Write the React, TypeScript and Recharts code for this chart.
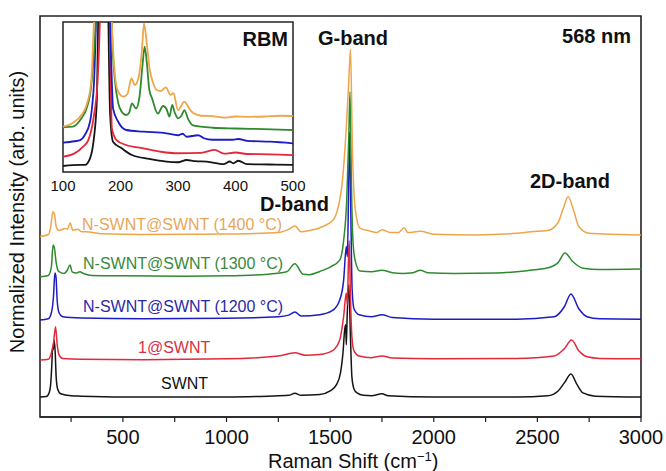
import { LineChart, Line, XAxis, YAxis, ReferenceArea } from "recharts"

// Raman shift (cm-1), normalized intensity (offset stacked, 0-100 of plot height)
const swnt: [number, number][] = [
  [100, 5.0], [130, 5.1], [145, 6.2], [152, 8.5], [157, 13], [161, 17.5], [164, 16.8], [168, 19.2],
  [173, 16.5], [178, 10], [185, 7], [200, 5.8], [250, 5.3], [300, 5.2], [500, 5.0], [800, 5.0],
  [1000, 5.0], [1200, 5.2], [1300, 5.4], [1330, 5.9], [1360, 5.4], [1450, 5.6], [1500, 6.5],
  [1530, 8], [1550, 11], [1562, 16], [1570, 21.7], [1575, 23], [1578, 18], [1582, 25], [1590, 33],
  [1598, 20], [1605, 10], [1615, 7], [1630, 6], [1660, 5.4], [1700, 5.3], [1750, 5.8], [1780, 5.3],
  [2000, 5.0], [2400, 5.0], [2550, 5.3], [2600, 6.5], [2630, 8.5], [2662, 10.7], [2690, 8.2],
  [2720, 6.0], [2780, 5.2], [3000, 5.0],
]
const oneSwnt: [number, number][] = [
  [100, 14.2], [140, 14.4], [155, 16], [165, 18.5], [175, 22.5], [183, 18], [192, 15.5], [210, 14.6],
  [300, 14.4], [600, 14.3], [1000, 14.5], [1250, 15.2], [1330, 16], [1380, 15.4], [1450, 15.6],
  [1510, 16.5], [1545, 19], [1565, 25], [1578, 30.9], [1583, 28], [1588, 38], [1592, 44], [1598, 30],
  [1605, 20], [1615, 16.5], [1640, 15.2], [1700, 14.8], [1750, 15.2], [1800, 14.7], [2000, 14.5],
  [2400, 14.6], [2580, 15.2], [2630, 17], [2665, 19.2], [2700, 16.5], [2740, 15], [2800, 14.6],
  [3000, 14.5],
]
const n1200: [number, number][] = [
  [100, 24.2], [140, 24.5], [155, 26], [165, 30], [172, 35.9], [177, 35], [183, 29], [192, 26],
  [210, 25], [300, 24.7], [600, 24.5], [1000, 24.6], [1250, 25], [1300, 25.4], [1330, 26.2],
  [1360, 25.2], [1450, 25.5], [1510, 26.5], [1545, 29], [1565, 34], [1578, 42.5], [1583, 40],
  [1590, 60], [1594, 71.1], [1600, 50], [1606, 32], [1615, 27], [1640, 25.5], [1700, 25],
  [1750, 25.5], [1800, 24.8], [2000, 24.4], [2400, 24.4], [2580, 25], [2630, 27.5], [2662, 30.7],
  [2700, 27], [2740, 25], [2800, 24.5], [3000, 24.4],
]
const n1300: [number, number][] = [
  [100, 35], [140, 35.3], [155, 37.5], [163, 42.9], [170, 42], [178, 38.5], [190, 36.3], [215, 35.8],
  [232, 36.6], [245, 37.9], [255, 36.2], [275, 35.9], [292, 36.2], [310, 35.8], [350, 35.3],
  [500, 35.2], [800, 35.1], [1000, 35.2], [1200, 35.6], [1290, 36.2], [1330, 38.2], [1370, 35.6],
  [1400, 35.5], [1450, 36.3], [1500, 37.4], [1547, 39.2], [1565, 44], [1580, 54], [1590, 70],
  [1596, 81.1], [1602, 60], [1610, 44], [1620, 39.2], [1644, 36.4], [1700, 36.2], [1750, 36.6],
  [1800, 36], [1850, 35.8], [1900, 36], [1935, 36.6], [1970, 36], [2100, 35.8], [2300, 35.9],
  [2450, 36.5], [2550, 37.2], [2600, 38.5], [2633, 40.9], [2670, 38.8], [2720, 37.1], [2800, 36.8],
  [3000, 36.9],
]
const n1400: [number, number][] = [
  [100, 45.0], [140, 45.5], [152, 47.5], [162, 51.2], [170, 50.5], [178, 47.5], [192, 46.5],
  [220, 47], [232, 46.8], [246, 48.4], [258, 46.6], [283, 46.8], [300, 46.2], [320, 46.2],
  [400, 45.7], [600, 45.5], [900, 45.6], [1100, 45.7], [1250, 46.0], [1300, 46.8], [1330, 47.6],
  [1360, 46.2], [1400, 46.5], [1450, 47.2], [1514, 49.1], [1556, 57.4], [1580, 74], [1592, 86],
  [1598, 91.7], [1608, 65.8], [1620, 52.4], [1644, 47.1], [1690, 46.4], [1724, 46], [1750, 46.7],
  [1790, 46], [1830, 46], [1857, 47.2], [1875, 46], [1935, 46.3], [2000, 45.6], [2200, 45.4],
  [2400, 45.8], [2470, 46.2], [2550, 46.5], [2600, 48.5], [2625, 52], [2648, 54.9], [2675, 51.5],
  [2700, 47.5], [2750, 45.8], [2850, 45.6], [3000, 45.4],
]

// RBM inset (100-500 cm-1)
const swntRbm: [number, number][] = [
  [100, 4], [130, 4.7], [138, 4.7], [147, 9.1], [153, 20.2], [159, 49], [163, 150], [170, 300],
  [176, 200], [179, 100], [182, 38], [187, 20.2], [202, 15.8], [220, 11.3], [250, 8.7], [280, 6.9],
  [300, 6.5], [315, 8], [330, 7.2], [350, 6.9], [380, 5.3], [390, 7], [396, 5.8], [405, 7.5],
  [420, 5.2], [460, 5], [500, 4.7],
]
const oneSwntRbm: [number, number][] = [
  [100, 10.2], [120, 12.4], [135, 16.9], [144, 21.3], [153, 35.8], [160, 60], [164, 100], [170, 250],
  [176, 280], [180, 150], [183, 60], [185, 29], [193, 21.3], [210, 18], [240, 15.8], [270, 13.5],
  [300, 12.5], [340, 12.8], [364, 14.7], [380, 12.2], [400, 13], [420, 12], [460, 11.8], [500, 11.3],
]
const n1200Rbm: [number, number][] = [
  [100, 19.6], [120, 20.5], [130, 21.3], [138, 24.7], [147, 33.5], [151, 45], [154, 60], [158, 110],
  [165, 250], [172, 280], [178, 200], [182, 100], [185, 60], [187, 42.4], [196, 33.5], [210, 28],
  [240, 26.9], [280, 25.8], [300, 24.5], [308, 25.5], [315, 23.5], [335, 24.5], [345, 22.5],
  [360, 21.5], [395, 21.5], [405, 22], [420, 20.8], [460, 20.2], [500, 19.1],
]
const n1300Rbm: [number, number][] = [
  [100, 29.8], [117, 30.2], [132, 35.8], [141, 42.4], [149, 57], [154, 80], [158, 110], [165, 250],
  [170, 300], [176, 250], [182, 140], [186, 85], [190, 62], [196, 46], [202, 40.2], [210, 38],
  [215, 39.5], [220, 45.8], [227, 42.4], [233, 50], [238, 70], [242, 83.5], [246, 72], [250, 55],
  [255, 49], [265, 39], [274, 44], [280, 42], [285, 36.9], [290, 44.7], [294, 40], [300, 35.8],
  [306, 37.5], [311, 41.3], [318, 35], [325, 31.3], [340, 30.2], [360, 29.5], [400, 29],
  [450, 28.6], [500, 28],
]
const n1400Rbm: [number, number][] = [
  [100, 30.2], [117, 32.7], [132, 38], [141, 44.7], [149, 60], [155, 110], [160, 140], [165, 250],
  [170, 300], [176, 250], [182, 130], [186, 90], [190, 66], [196, 53.5], [205, 50.2], [212, 52],
  [219, 62.4], [225, 58], [232, 64], [237, 80], [241, 99], [245, 88], [251, 68], [258, 58],
  [263, 54.7], [270, 54], [279, 56.4], [287, 51.3], [292, 52.5], [300, 41.3], [311, 46.9],
  [320, 42], [327, 39.1], [340, 37.5], [360, 37.3], [380, 36.3], [400, 37], [420, 36.8], [450, 37],
  [480, 37.5], [500, 37.3],
]

const mainTicks = [250, 500, 750, 1000, 1250, 1500, 1750, 2000, 2250, 2500, 2750, 3000]
const insetTicks = [100, 200, 300, 400, 500]
const insetYTicks = [21, 42, 63, 84]

const COLORS = {
  swnt: "#151515",
  one: "#e2283a",
  n1200: "#1c1cc4",
  n1300: "#2f8a2f",
  n1400: "#f0a548",
}

const FONT = "'Liberation Sans', Arial, sans-serif"

const pts = (s: [number, number][]) => s.map(([x, y]) => ({ x, y }))

const mainSeries = [
  { key: "swnt", data: swnt, color: COLORS.swnt },
  { key: "one", data: oneSwnt, color: COLORS.one },
  { key: "n1200", data: n1200, color: COLORS.n1200 },
  { key: "n1300", data: n1300, color: COLORS.n1300 },
  { key: "n1400", data: n1400, color: COLORS.n1400 },
]
const insetSeries = [
  { key: "swnt", data: swntRbm, color: COLORS.swnt },
  { key: "one", data: oneSwntRbm, color: COLORS.one },
  { key: "n1200", data: n1200Rbm, color: COLORS.n1200 },
  { key: "n1300", data: n1300Rbm, color: COLORS.n1300 },
  { key: "n1400", data: n1400Rbm, color: COLORS.n1400 },
]

export default function App() {
  return (
    <div
      style={{
        position: "absolute",
        left: 0,
        top: 0,
        width: 666,
        height: 471,
        background: "#fff",
        fontFamily: FONT,
      }}
    >
      <div style={{ position: "absolute", left: 0, top: 0 }}>
        <LineChart width={666} height={471} margin={{ top: 16, right: 25, bottom: 24, left: 40 }}>
          <XAxis
            dataKey="x"
            type="number"
            domain={[100, 3000]}
            ticks={mainTicks}
            interval={0}
            tickFormatter={(v: number) => (v % 500 === 0 ? String(v) : "")}
            tick={{ fill: "#111", fontSize: 20, fontFamily: FONT }}
            tickSize={5}
            tickMargin={8}
            height={30}
            axisLine={{ stroke: "#222", strokeWidth: 1.5 }}
            tickLine={{ stroke: "#222", strokeWidth: 1.2 }}
            allowDataOverflow
          />
          <YAxis type="number" domain={[0, 100]} hide allowDataOverflow />
          <ReferenceArea x1={100} x2={3000} y1={0} y2={100} fill="none" stroke="#222" strokeWidth={1.6} />
          {mainSeries.map((s) => (
            <Line
              key={s.key}
              data={pts(s.data)}
              dataKey="y"
              type="monotone"
              stroke={s.color}
              strokeWidth={1.5}
              dot={false}
              activeDot={false}
              isAnimationActive={false}
            />
          ))}
        </LineChart>
      </div>

      <div style={{ position: "absolute", left: 0, top: 0 }}>
        <LineChart width={666} height={471} margin={{ top: 22, right: 373, bottom: 269, left: 63 }}>
          <XAxis
            dataKey="x"
            type="number"
            domain={[100, 500]}
            ticks={insetTicks}
            interval={0}
            tick={{ fill: "#111", fontSize: 15, fontFamily: FONT }}
            tickSize={0}
            tickMargin={8}
            height={30}
            axisLine={false}
            allowDataOverflow
          />
          <YAxis
            type="number"
            domain={[0, 100]}
            ticks={insetYTicks}
            width={0}
            mirror
            tick={false}
            tickSize={4}
            tickLine={{ stroke: "#333" }}
            axisLine={false}
            allowDataOverflow
          />
          {insetSeries.map((s) => (
            <Line
              key={s.key}
              data={pts(s.data)}
              dataKey="y"
              type="monotone"
              stroke={s.color}
              strokeWidth={1.8}
              dot={false}
              activeDot={false}
              isAnimationActive={false}
            />
          ))}
          <ReferenceArea x1={100} x2={500} y1={0} y2={100} fill="none" stroke="#222" strokeWidth={1.5} />
        </LineChart>
      </div>

      <svg
        width={666}
        height={471}
        style={{ position: "absolute", left: 0, top: 0, pointerEvents: "none" }}
        fontFamily={FONT}
      >
        <g fontWeight="bold" fontSize={20} fill="#111" dominantBaseline="central">
          <text x={288} y={39} textAnchor="end">RBM</text>
          <text x={318} y={38}>G-band</text>
          <text x={631} y={36} textAnchor="end">568 nm</text>
          <text x={260} y={204}>D-band</text>
          <text x={530} y={181}>2D-band</text>
        </g>
        <g fontSize={16} dominantBaseline="central">
          <text x={82} y={224} fill="#e9a65a">N-SWNT@SWNT (1400 °C)</text>
          <text x={83} y={263} fill="#3a8a3a">N-SWNT@SWNT (1300 °C)</text>
          <text x={83} y={306} fill="#2a2aa8">N-SWNT@SWNT (1200 °C)</text>
          <text x={138} y={347} fill="#d9303f">1@SWNT</text>
          <text x={161} y={383} fill="#111">SWNT</text>
        </g>
        <text
          x={17}
          y={212}
          transform="rotate(-90 17 212)"
          textAnchor="middle"
          dominantBaseline="central"
          fontSize={20}
          fill="#111"
        >
          Normalized Intensity (arb. units)
        </text>
        <text x={268} y={468} fontSize={20} fill="#111">
          Raman Shift (cm
          <tspan fontSize={13} dy={-7}>−1</tspan>
          <tspan dy={7}>)</tspan>
        </text>
      </svg>
    </div>
  )
}
